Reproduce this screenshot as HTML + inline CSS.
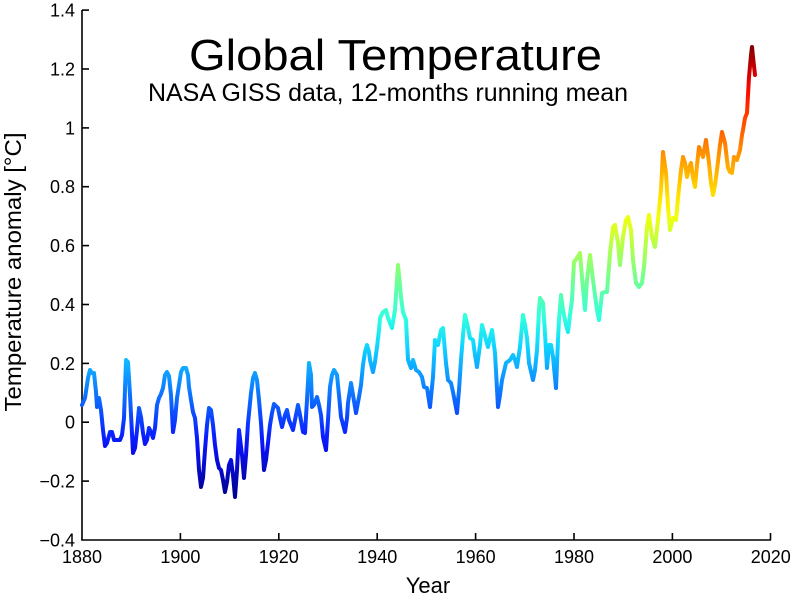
<!DOCTYPE html>
<html>
<head>
<meta charset="utf-8">
<style>
html,body{margin:0;padding:0;background:#fff;}
svg{display:block;}
text{font-family:"Liberation Sans",Arial,sans-serif;fill:#000;}
</style>
</head>
<body>
<svg width="800" height="598" viewBox="0 0 800 598" xmlns="http://www.w3.org/2000/svg">
<defs>
<linearGradient id="jet" gradientUnits="userSpaceOnUse" x1="0" y1="499" x2="0" y2="45">
<stop offset="0" stop-color="#000088"/>
<stop offset="0.11" stop-color="#0a10f0"/>
<stop offset="0.14" stop-color="#0a20ff"/>
<stop offset="0.34" stop-color="#10d8ff"/>
<stop offset="0.40" stop-color="#30ffe0"/>
<stop offset="0.50" stop-color="#80ff80"/>
<stop offset="0.62" stop-color="#f0ff10"/>
<stop offset="0.66" stop-color="#ffe800"/>
<stop offset="0.78" stop-color="#ff8000"/>
<stop offset="0.89" stop-color="#ff1000"/>
<stop offset="0.93" stop-color="#e00000"/>
<stop offset="1" stop-color="#800000"/>
</linearGradient>
</defs>
<rect width="800" height="598" fill="#fff"/>

<!-- Title -->
<text x="189" y="70" font-size="44" textLength="413" lengthAdjust="spacingAndGlyphs">Global Temperature</text>
<text x="148" y="101" font-size="25" textLength="480" lengthAdjust="spacingAndGlyphs">NASA GISS data, 12-months running mean</text>

<!-- Axes -->
<g stroke="#000" stroke-width="1.6" fill="none">
<line x1="82" y1="10" x2="82" y2="540.5"/>
<line x1="81.2" y1="540" x2="771" y2="540"/>
<!-- y ticks -->
<line x1="82" y1="10.1" x2="89" y2="10.1"/>
<line x1="82" y1="69" x2="89" y2="69"/>
<line x1="82" y1="127.9" x2="89" y2="127.9"/>
<line x1="82" y1="186.7" x2="89" y2="186.7"/>
<line x1="82" y1="245.6" x2="89" y2="245.6"/>
<line x1="82" y1="304.5" x2="89" y2="304.5"/>
<line x1="82" y1="363.4" x2="89" y2="363.4"/>
<line x1="82" y1="422.2" x2="89" y2="422.2"/>
<line x1="82" y1="481.1" x2="89" y2="481.1"/>
<!-- x ticks -->
<line x1="180.4" y1="540" x2="180.4" y2="533"/>
<line x1="278.8" y1="540" x2="278.8" y2="533"/>
<line x1="377.2" y1="540" x2="377.2" y2="533"/>
<line x1="475.6" y1="540" x2="475.6" y2="533"/>
<line x1="574" y1="540" x2="574" y2="533"/>
<line x1="672.4" y1="540" x2="672.4" y2="533"/>
<line x1="770.5" y1="540" x2="770.5" y2="533"/>
</g>

<!-- y tick labels -->
<g font-size="18" text-anchor="end">
<text x="75" y="16.5">1.4</text>
<text x="75" y="75.4">1.2</text>
<text x="75" y="134.3">1</text>
<text x="75" y="193.1">0.8</text>
<text x="75" y="252">0.6</text>
<text x="75" y="310.9">0.4</text>
<text x="75" y="369.8">0.2</text>
<text x="75" y="428.6">0</text>
<text x="75" y="487.5">−0.2</text>
<text x="75" y="546.4">−0.4</text>
</g>

<!-- x tick labels -->
<g font-size="18" text-anchor="middle">
<text x="82" y="563">1880</text>
<text x="180.4" y="563">1900</text>
<text x="278.8" y="563">1920</text>
<text x="377.2" y="563">1940</text>
<text x="475.6" y="563">1960</text>
<text x="574" y="563">1980</text>
<text x="672.4" y="563">2000</text>
<text x="770.8" y="563">2020</text>
</g>

<text x="428" y="593" font-size="22" text-anchor="middle">Year</text>
<text transform="translate(21,272) rotate(-90)" font-size="23" text-anchor="middle" textLength="279" lengthAdjust="spacingAndGlyphs">Temperature anomaly [°C]</text>

<!-- data -->
<polyline fill="none" stroke="url(#jet)" stroke-width="4" stroke-linejoin="round" stroke-linecap="round" points="
82,405 85,398 88,378 90,370 92,373 94,373 96,392 97,407 99,398 101,410 103,430 105,446 107,443 110,432 112,432 114,440 117,440 120,440 122,435 124,418 126,360 128,362 130,395 133,453 135,448 137,430 139,408 141,417 143,433 145,444 147,440 149,428 151,432 153,438 155,428 157,405 159,398 161,394 163,388 165,375 167,372 169,376 171,395 173,432 175,420 177,398 179,385 181,372 183,368 186,368 188,375 189,387 191,400 193,412 195,418 197,438 199,470 201,487 203,478 205,450 207,425 209,408 211,410 213,425 215,445 217,460 219,468 221,470 223,480 225,492 227,482 229,465 231,460 233,475 235,497 237,470 239,430
242,455 244,478 246,455 248,423 251,393 253,378 255,373 257,380 259,400 261,423 264,470 266,460 268,443 270,425 272,413 274,404 276,406 278,408 280,418 282,427 285,415 287,410 289,420 291,425 293,430 296,415 298,405 300,415 303,432 305,433 307,400 309,363 311,375 312,407 314,405 317,397 319,405 321,415 323,437 326,450 328,420 330,387 332,375 334,370 337,375 339,395 341,417 345,432 347,418 348,403 351,383 353,395 356,413 359,397 361,385 363,365 365,352 367,345 369,352 370,360 373,372 375,362 377,347 379,330 380,318 383,312 386,310 388,318 392,328 395,310 397,280 398,265 400,285 401,297 403,312 406,320 408,360 411,368 413,360 416,370 419,372 422,377 424,387 427,388 430,407 433,377 435,340 438,345 441,330 443,328 446,363 448,380 451,383 453,392 457,413 459,390 461,360 463,335 465,315 467,323 470,338 473,340 475,355 477,367 480,345 482,325 484,332 486,340 488,347 490,338 492,330 495,353 498,407 500,395 502,380 506,363 510,360 513,355 515,360 517,367 520,347 523,315 525,325 527,338 529,363 533,380 535,370 537,350 539,310 540,298 543,303 545,333 547,368 549,345 551,345 553,357 556,388 558,340 559,320 561,295 563,310 566,325 568,332 570,315 572,300 574,262 577,258 580,253 582,277 585,310 587,280 590,255 593,280 597,310 599,320 602,293 605,292 607,292 610,253 613,227 615,225 618,243 620,265 623,237 626,220 628,217 631,230 633,260 636,283 639,287 642,283 644,267 647,227 649,215 652,237 655,247 658,220 661,190 663,152 666,173 668,207 670,230 673,218 676,220 678,198 681,170 683,157 685,163 687,177 689,168 691,163 693,178 695,187 697,165 699,147 701,152 703,157 706,140 708,155 709,163 711,183 713,195 715,185 717,170 720,145 722,132 725,143 727,160 728,168 730,172 732,173 734,157 737,160 740,150 742,135 743,130 745,118 747,113 749,77 751,55 752,47 753,57 755,75"/>
</svg>
</body>
</html>
